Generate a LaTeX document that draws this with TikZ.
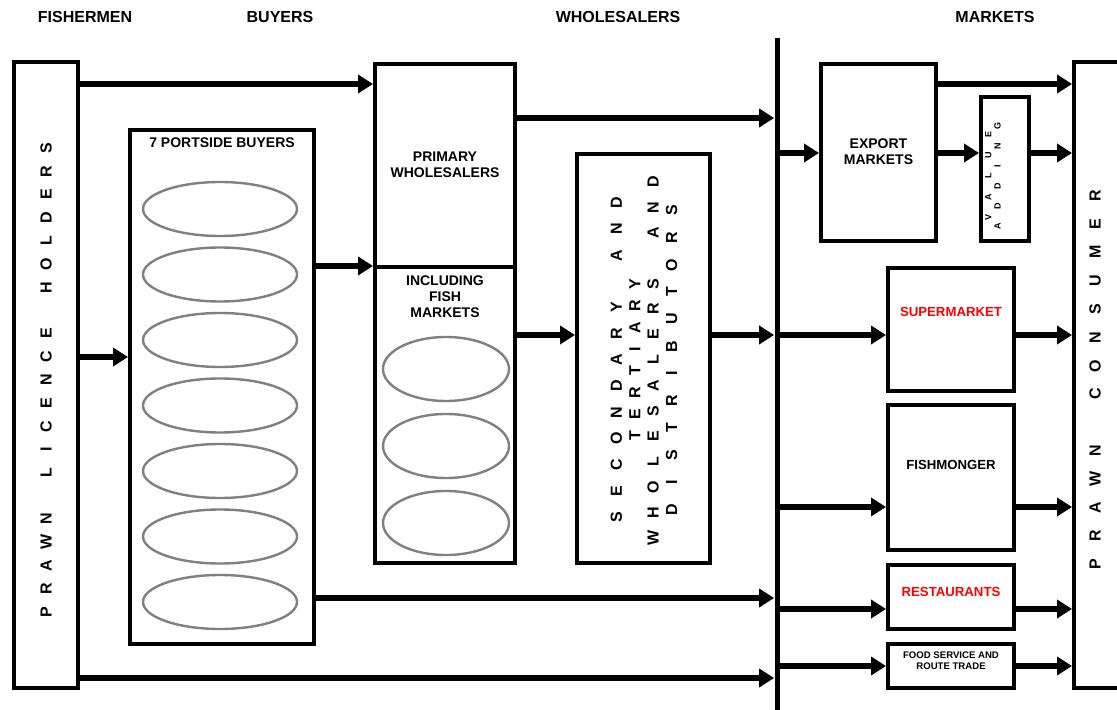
\documentclass[tikz,border=0pt]{standalone}
\usepackage{fontspec}
\setmainfont{Liberation Sans}
\usetikzlibrary{arrows.meta, shapes.geometric}

\newcommand{\spread}[2]{\foreach \ch in {#2}{\makebox[#1]{\ch}}}

\begin{document}
\begin{tikzpicture}[
  x=0.5pt, y=-0.5pt,
  box/.style={rectangle, draw, line width=2pt, inner sep=0pt, fill=white},
  oval/.style={ellipse, draw=gray, line width=1.2pt, inner sep=0pt, minimum width=77pt, minimum height=27pt},
  arr/.style={-{Triangle[length=7.5pt, width=9pt]}, line width=2.6pt},
  head/.style={font=\bfseries\fontsize{8}{9}\selectfont},
  lbl/.style={align=center, font=\bfseries\fontsize{7}{8}\selectfont},
  mkt/.style={align=center, font=\bfseries\fontsize{6.6}{7.5}\selectfont},
  vtxt/.style={rotate=90, align=center, font=\bfseries\fontsize{8}{9.2}\selectfont}
]
\useasboundingbox (0,0) rectangle (1117,710);

% column headings
\node[head] (hfish) at (85,17) {FISHERMEN};
\node[head] (hbuy) at (280,17) {BUYERS};
\node[head] (hwhole) at (618,17) {WHOLESALERS};
\node[head] (hmark) at (995,17) {MARKETS};

% fishermen and buyers
\node[box, minimum width=32pt, minimum height=313pt] (lic) at (46,375) {};
\node[vtxt] (lictxt) at (46,380) {\spread{11.6pt}{P,R,A,W,N,~,L,I,C,E,N,C,E,~,H,O,L,D,E,R,S}};
\node[box, minimum width=92pt, minimum height=257pt] (port) at (222,387) {};
\node[lbl] (porttxt) at (222,143) {7 PORTSIDE BUYERS};
\foreach \i/\y in {1/209, 2/274.5, 3/340, 4/405.5, 5/471, 6/536.5, 7/602}
  \node[oval] (buyer\i) at (220,\y) {};

% wholesalers
\node[box, minimum width=70pt, minimum height=249.5pt] (prim) at (445,313.5) {};
\draw[line width=2pt] (prim.west |- 0,267) -- (prim.east |- 0,267);
\node[lbl] (primtxt) at (445,165) {PRIMARY\\WHOLESALERS};
\node[lbl] (fishtxt) at (445,297) {INCLUDING\\FISH\\MARKETS};
\foreach \i/\y in {1/369, 2/446, 3/523}
  \node[oval, minimum width=63pt, minimum height=32pt] (fm\i) at (446,\y) {};
\node[box, minimum width=66.5pt, minimum height=204.5pt] (sec) at (643.5,358.5) {};
\node[vtxt] (sectxt) at (644,360) {\spread{13.1pt}{S,E,C,O,N,D,A,R,Y,~,A,N,D}\\
  \spread{10.8pt}{T,E,R,T,I,A,R,Y}\\
  \spread{12.7pt}{W,H,O,L,E,S,A,L,E,R,S,~,A,N,D}\\
  \spread{13.6pt}{D,I,S,T,R,I,B,U,T,O,R,S}};

% divide
\node[fill, inner sep=0pt, minimum width=2.5pt, minimum height=336pt] (vline) at (777,374) {};

% markets
\node[box, minimum width=57.5pt, minimum height=88.5pt] (exp) at (878.5,152.5) {};
\node[lbl] (exptxt) at (878.5,152) {EXPORT\\MARKETS};
\node[box, minimum width=24pt, minimum height=72pt] (val) at (1005,169) {};
\node[vtxt, font=\bfseries\fontsize{4.5}{4.6}\selectfont] (valtxt) at (993,176)
  {\spread{10.5pt}{V,A,L,U,E}\\ \spread{10pt}{A,D,D,I,N,G}};
\node[box, minimum width=63pt, minimum height=61.5pt] (sup) at (951,329.5) {};
\node[mkt, red] (suptxt) at (951,312) {SUPERMARKET};
\node[box, minimum width=63pt, minimum height=72.5pt] (fish) at (951,477.5) {};
\node[mkt] (fishmtxt) at (951,465) {FISHMONGER};
\node[box, minimum width=63pt, minimum height=32pt] (rest) at (951,597) {};
\node[mkt, red] (resttxt) at (951,592) {RESTAURANTS};
\node[box, minimum width=63pt, minimum height=22pt] (food) at (951,666) {};
\node[align=center, font=\bfseries\fontsize{4.8}{5.4}\selectfont] (foodtxt) at (951,661) {FOOD SERVICE AND\\ROUTE TRADE};
\node[box, minimum width=27pt, minimum height=313pt] (cons) at (1101,375) {};
\node[vtxt] (constxt) at (1095,380) {\spread{14.2pt}{P,R,A,W,N,~,C,O,N,S,U,M,E,R}};

% flows
\draw[arr] (lic.east |- 0,84) -- (prim.west |- 0,84);
\draw[arr] (lic.east |- 0,357) -- (port.west |- 0,357);
\draw[arr] (lic.east |- 0,678) -- (vline.west |- 0,678);
\draw[arr] (port.east |- 0,266) -- (prim.west |- 0,266);
\draw[arr] (port.east |- 0,598) -- (vline.west |- 0,598);
\draw[arr] (prim.east |- 0,118) -- (vline.west |- 0,118);
\draw[arr] (prim.east |- 0,335) -- (sec.west |- 0,335);
\draw[arr] (sec.east |- 0,335) -- (vline.west |- 0,335);
\draw[arr] (vline.center |- 0,153) -- (exp.west |- 0,153);
\draw[arr] (exp.east |- 0,84) -- (cons.west |- 0,84);
\draw[arr] (exp.east |- 0,153) -- (val.west |- 0,153);
\draw[arr] (val.east |- 0,153) -- (cons.west |- 0,153);
\draw[arr] (vline.center |- 0,335) -- (sup.west |- 0,335);
\draw[arr] (sup.east |- 0,335) -- (cons.west |- 0,335);
\draw[arr] (vline.center |- 0,507) -- (fish.west |- 0,507);
\draw[arr] (fish.east |- 0,507) -- (cons.west |- 0,507);
\draw[arr] (vline.center |- 0,609) -- (rest.west |- 0,609);
\draw[arr] (rest.east |- 0,609) -- (cons.west |- 0,609);
\draw[arr] (vline.center |- 0,666) -- (food.west |- 0,666);
\draw[arr] (food.east |- 0,666) -- (cons.west |- 0,666);
\end{tikzpicture}
\end{document}
